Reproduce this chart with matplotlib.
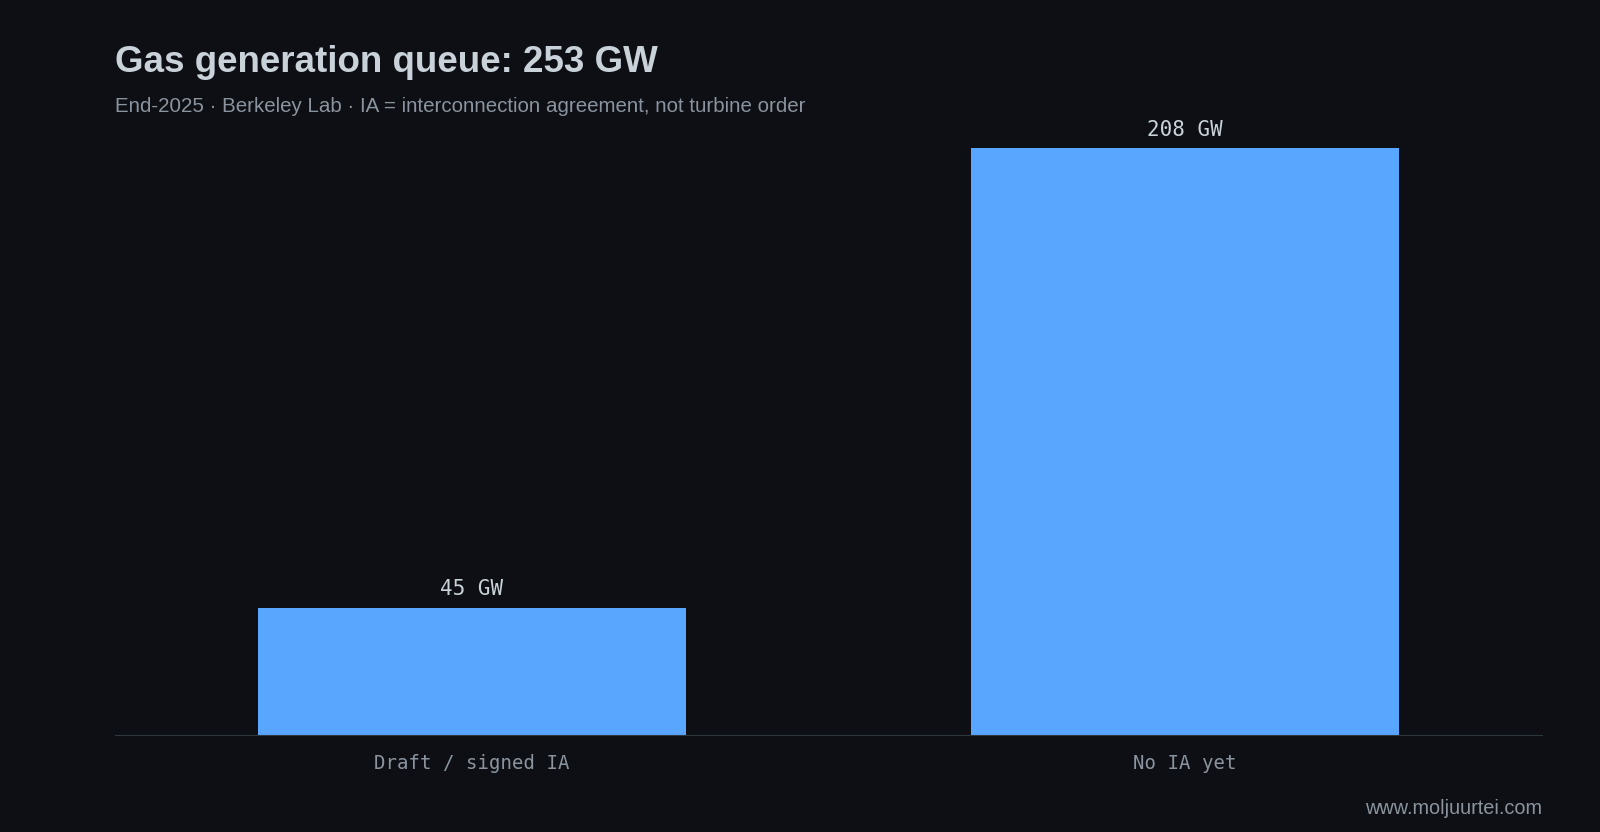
import matplotlib
matplotlib.use("Agg")
import matplotlib.pyplot as plt

categories = ["Draft / signed IA", "No IA yet"]
values = [45, 208]
value_labels = ["45 GW", "208 GW"]

bg = "#0d0f14"
k = 1600 / 1568
fig = plt.figure(figsize=(16, 8.32), dpi=100, facecolor=bg)
L, R, B, T = 113 * k, 1511 * k, 720 * k, 145 * k
ax = fig.add_axes([L/1600, 1 - B/832, (R-L)/1600, (B-T)/832], facecolor=bg)
x = range(len(categories))
ax.bar(x, values, width=0.6, color="#58a6ff")
ax.set_xlim(-0.5, 1.5)
ax.set_ylim(0, 208)
for xi, v, l in zip(x, values, value_labels):
    ax.annotate(l, (xi, v), xytext=(0, 6), textcoords="offset points", ha="center", va="bottom",
                family="DejaVu Sans Mono", fontsize=15, color="#c9d1d9")
ax.set_xticks(list(x))
ax.set_xticklabels(categories, family="DejaVu Sans Mono", fontsize=13.7, color="#8b949e")
ax.tick_params(axis="x", length=0, pad=14)
ax.set_yticks([])
for s in ["top", "right", "left"]:
    ax.spines[s].set_visible(False)
ax.spines["bottom"].set_color("#30363d")
fig.text(L/1600, 1 - 61*k/832, "Gas generation queue: 253 GW", fontsize=26.5, fontweight="bold",
         color="#c9d1d9", va="center", family="Liberation Sans")
fig.text(L/1600, 1 - 104*k/832, "End-2025 · Berkeley Lab · IA = interconnection agreement, not turbine order",
         fontsize=14.8, color="#8b949e", va="center", family="Liberation Sans")
fig.text(R/1600, 1 - 792*k/832, "www.moljuurtei.com", fontsize=14.3, color="#8b949e",
         ha="right", va="center", family="Liberation Sans")
fig.savefig("out.png", facecolor=bg)
